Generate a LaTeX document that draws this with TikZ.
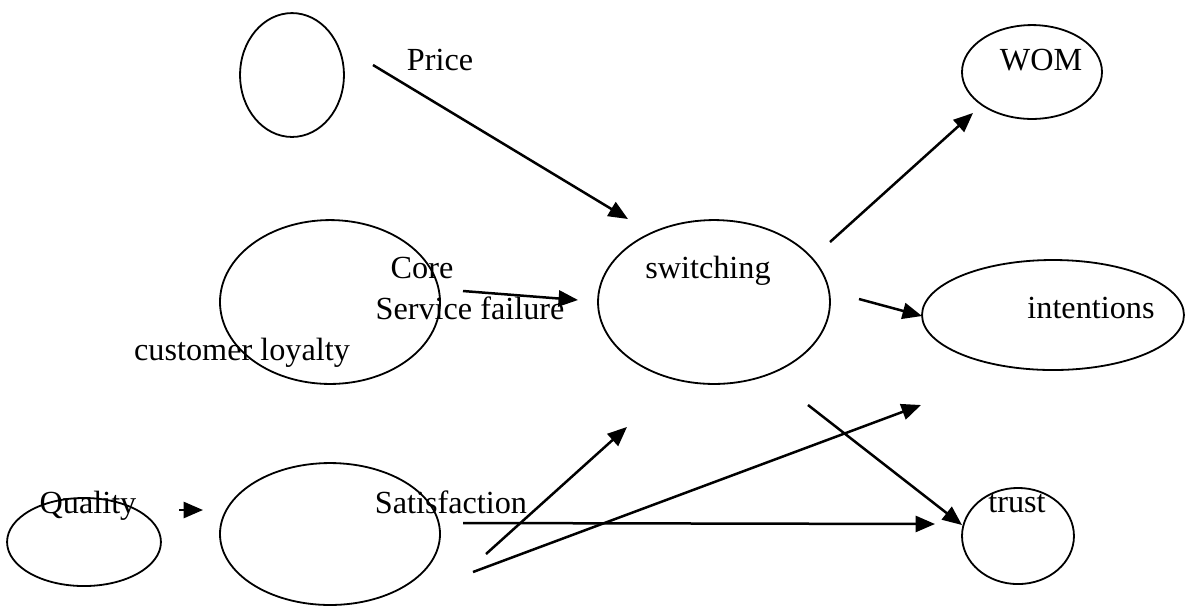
\documentclass[tikz,border=0pt]{standalone}
\usepackage{fontspec}
\setmainfont{Liberation Serif}
\usetikzlibrary{shapes.geometric,arrows.meta}
\tikzset{
  oval/.style={ellipse,draw,line width=0.65pt,inner sep=0pt,outer sep=0pt},
  lbl/.style={anchor=base,inner sep=0pt,font=\fontsize{11.6}{13}\selectfont},
  link/.style={line width=0.9pt,-{Triangle[length=7pt,width=5.8pt]}}
}
\begin{document}
\begin{tikzpicture}[x=0.36pt,y=-0.36pt]
                \useasboundingbox(0,0)rectangle(1185,606);
                % ovals
                \node[oval,minimum width=37.4pt,minimum height=44.6pt](price)at(292,75){};
                \node[oval,minimum width=79.2pt,minimum height=59pt](loyalty)at(330,302){};
                \node[oval,minimum width=83.5pt,minimum height=59pt](switching)at(714,302){};
                \node[oval,minimum width=50.4pt,minimum height=33.8pt](wom)at(1032,72){};
                \node[oval,minimum width=94.3pt,minimum height=39.6pt](intentions)at(1053,315){};
                \node[oval,minimum width=40.3pt,minimum height=34.6pt](trust)at(1018,536){};
                \node[oval,minimum width=55.4pt,minimum height=31.7pt](quality)at(84,542){};
                \node[oval,minimum width=79.2pt,minimum height=51.1pt](satisfaction)at(330,534){};
                % labels
                \node[lbl](priceT)at(440,70){Price};
                \node[lbl](coreT)at(422,278){Core};
                \node[lbl](failT)at(470,319){Service failure};
                \node[lbl](loyaltyT)at(242,360){customer loyalty};
                \node[lbl](switchingT)at(708,278){switching};
                \node[lbl](womT)at(1041,70){WOM};
                \node[lbl](intentionsT)at(1091,318){intentions};
                \node[lbl](trustT)at(1017,512){trust};
                \node[lbl](qualityT)at(88,513){Quality};
                \node[lbl](satisfactionT)at(451,513){Satisfaction};
                % arrow ends
                \coordinate(price-out)at(373,65);
                \coordinate(sw-in1)at(628,219);
                \coordinate(fail-out)at(463,291);
                \coordinate(sw-in2)at(578,300);
                \coordinate(sw-out1)at(830,242);
                \coordinate(wom-in)at(973,113);
                \coordinate(sw-out2)at(859,299);
                \coordinate(int-in1)at(922,316);
                \coordinate(sw-out3)at(808,405);
                \coordinate(trust-in1)at(962,525);
                \coordinate(sat-out1)at(463,523);
                \coordinate(trust-in2)at(935,524);
                \coordinate(sat-out2)at(486,554);
                \coordinate(sw-in3)at(627,427);
                \coordinate(sat-out3)at(473,572);
                \coordinate(int-in2)at(921,405);
                \coordinate(qual-out)at(179,510);
                \coordinate(sat-in)at(203,510);
                % arrows
                \draw[link](price-out)--(sw-in1);
                \draw[link](fail-out)--(sw-in2);
                \draw[link](sw-out1)--(wom-in);
                \draw[link](sw-out2)--(int-in1);
                \draw[link](sw-out3)--(trust-in1);
                \draw[link](sat-out1)--(trust-in2);
                \draw[link](sat-out2)--(sw-in3);
                \draw[link](sat-out3)--(int-in2);
                \draw[link](qual-out)--(sat-in);
            \end{tikzpicture}
\end{document}
